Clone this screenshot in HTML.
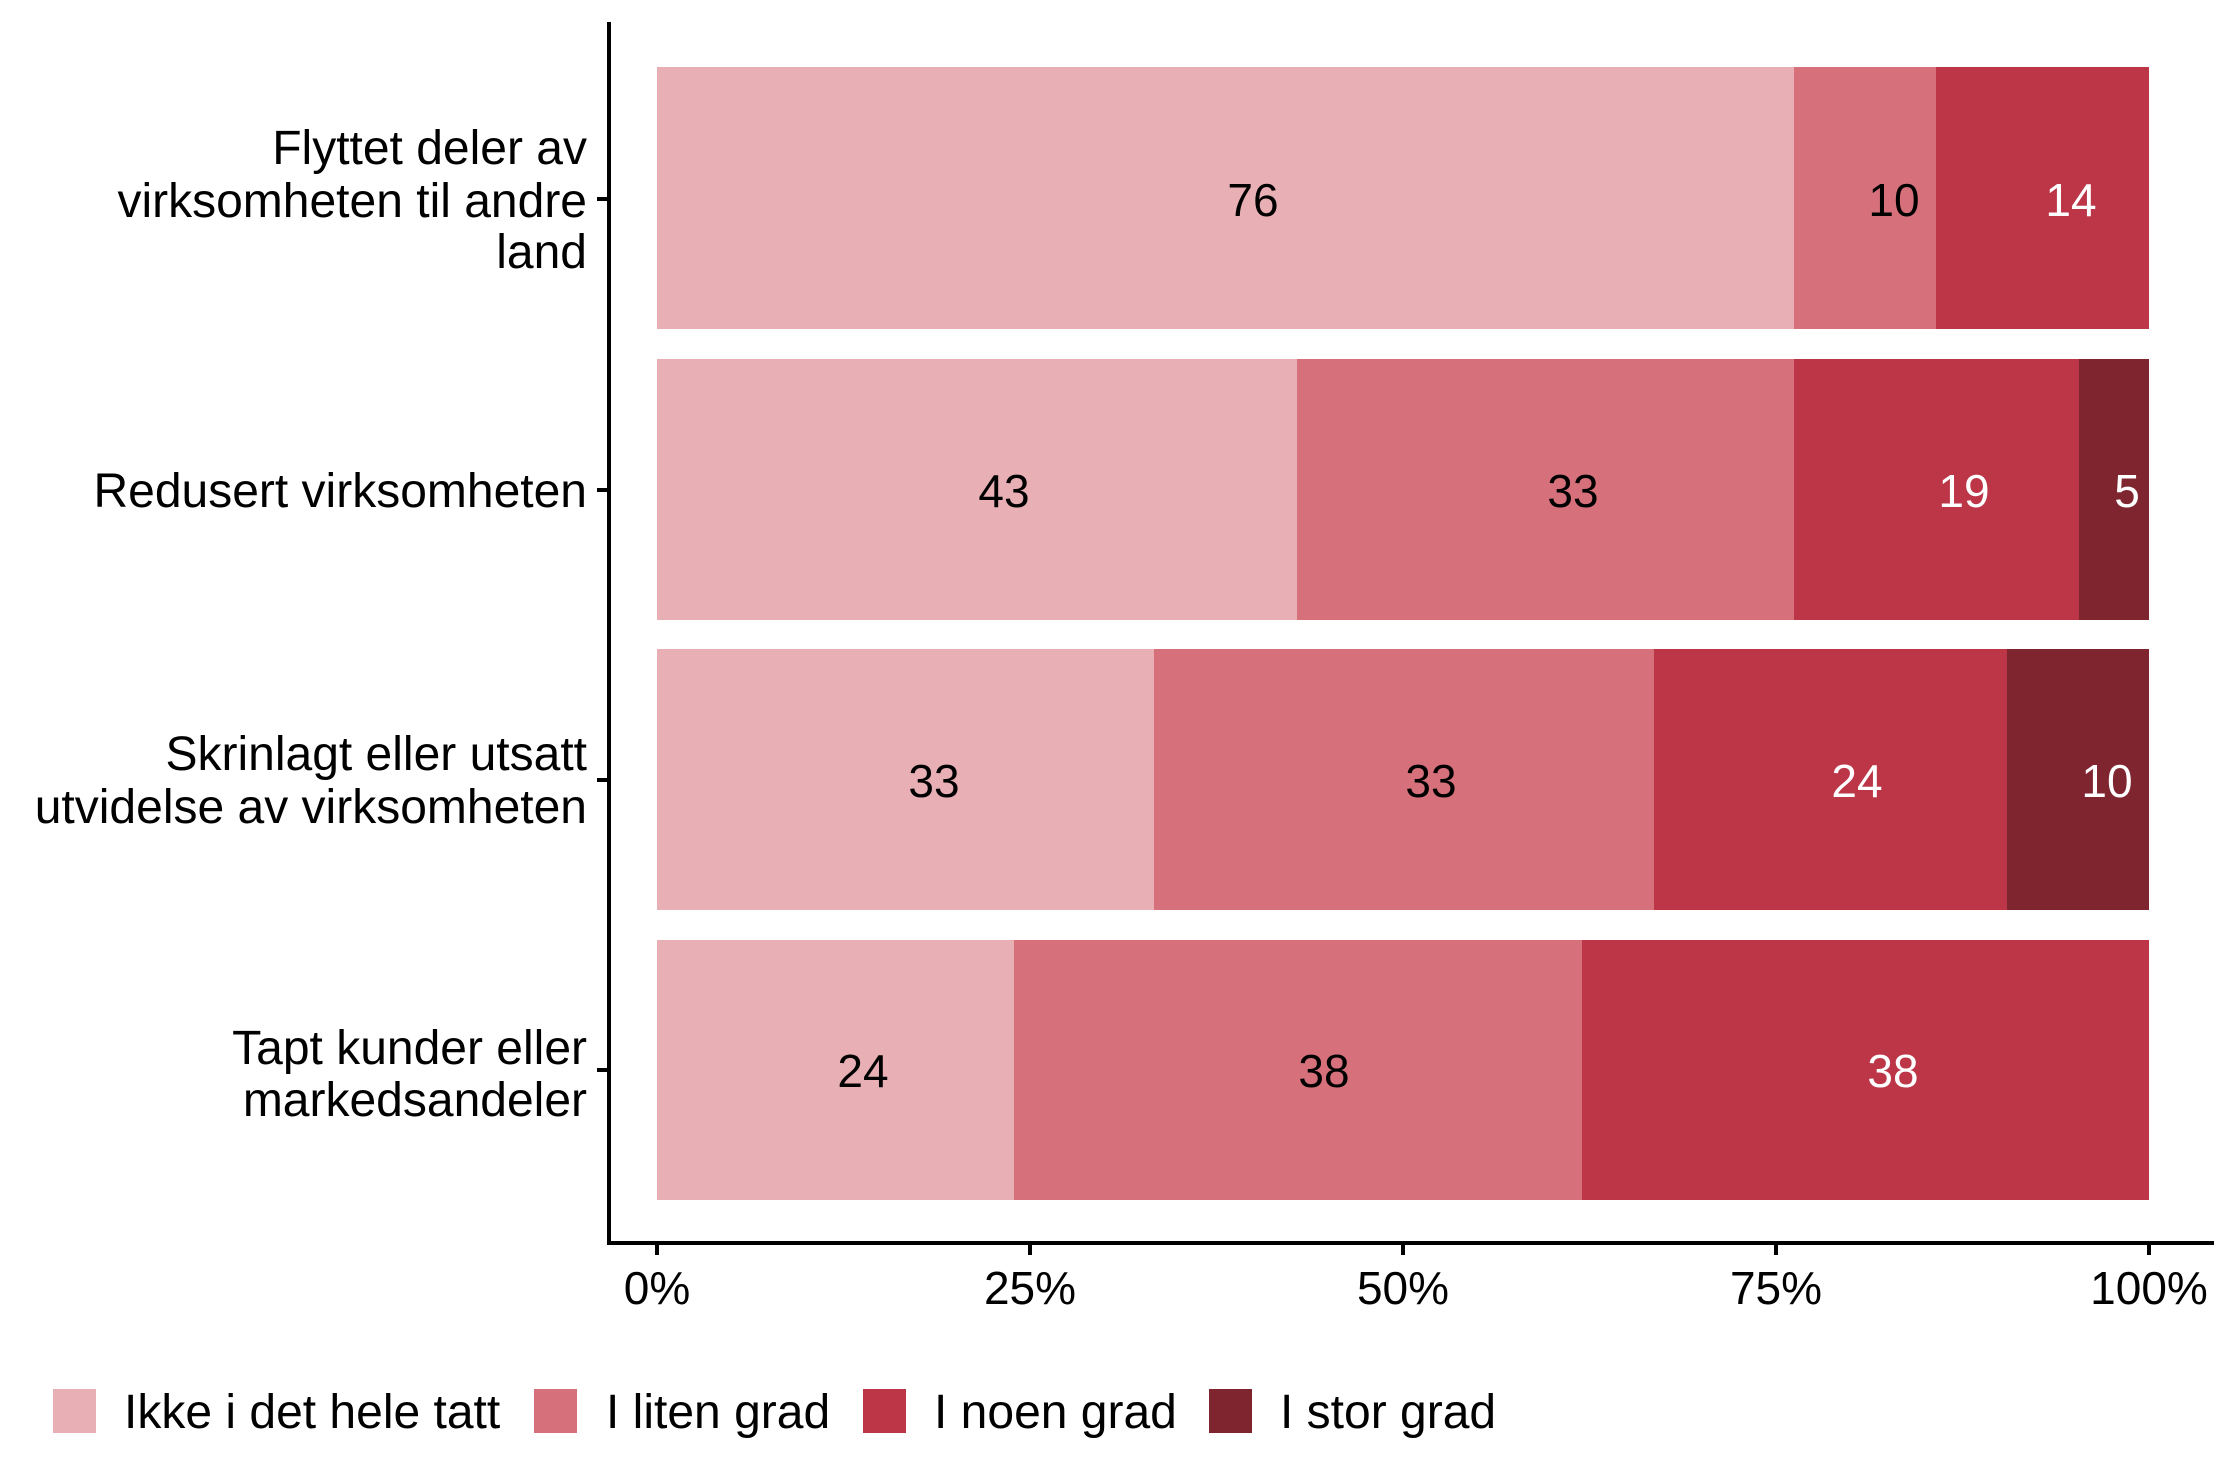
<!DOCTYPE html>
<html><head><meta charset="utf-8"><style>
html,body{margin:0;padding:0;background:#fff;}
svg{display:block;}
text{font-family:"Liberation Sans",Arial,sans-serif;}
</style></head><body>
<svg width="2240" height="1484" viewBox="0 0 2240 1484" xmlns="http://www.w3.org/2000/svg">
<rect width="2240" height="1484" fill="#fff"/>
<rect x="657" y="67" width="1137" height="262" fill="#E8B0B5"/>
<rect x="1794" y="67" width="142" height="262" fill="#D6717C"/>
<rect x="1936" y="67" width="213" height="262" fill="#BC3648"/>
<rect x="657" y="359" width="640" height="261" fill="#E8B0B5"/>
<rect x="1297" y="359" width="497" height="261" fill="#D6717C"/>
<rect x="1794" y="359" width="285" height="261" fill="#BC3648"/>
<rect x="2079" y="359" width="70" height="261" fill="#7E2530"/>
<rect x="657" y="649" width="497" height="261" fill="#E8B0B5"/>
<rect x="1154" y="649" width="500" height="261" fill="#D6717C"/>
<rect x="1654" y="649" width="353" height="261" fill="#BC3648"/>
<rect x="2007" y="649" width="142" height="261" fill="#7E2530"/>
<rect x="657" y="940" width="357" height="260" fill="#E8B0B5"/>
<rect x="1014" y="940" width="568" height="260" fill="#D6717C"/>
<rect x="1582" y="940" width="567" height="260" fill="#BC3648"/>

<g font-size="46" text-anchor="middle">
<text x="1253" y="216">76</text>
<text x="1894" y="216">10</text>
<text x="2071" y="216" fill="#fff">14</text>
<text x="1004" y="507">43</text>
<text x="1573" y="507">33</text>
<text x="1964" y="507" fill="#fff">19</text>
<text x="2127" y="507" fill="#fff">5</text>
<text x="934" y="797">33</text>
<text x="1431" y="797">33</text>
<text x="1857" y="797" fill="#fff">24</text>
<text x="2107" y="797" fill="#fff">10</text>
<text x="863" y="1087">24</text>
<text x="1324" y="1087">38</text>
<text x="1893" y="1087" fill="#fff">38</text>
</g>

<line x1="609" y1="22" x2="609" y2="1245" stroke="#000" stroke-width="4"/>
<line x1="607" y1="1243" x2="2214" y2="1243" stroke="#000" stroke-width="4"/>
<g stroke="#000" stroke-width="4">
<line x1="597" y1="199" x2="609" y2="199"/>
<line x1="597" y1="490" x2="609" y2="490"/>
<line x1="597" y1="780" x2="609" y2="780"/>
<line x1="597" y1="1070" x2="609" y2="1070"/>
<line x1="657" y1="1243" x2="657" y2="1255"/>
<line x1="1030" y1="1243" x2="1030" y2="1255"/>
<line x1="1403" y1="1243" x2="1403" y2="1255"/>
<line x1="1776" y1="1243" x2="1776" y2="1255"/>
<line x1="2149" y1="1243" x2="2149" y2="1255"/>
</g>
<g font-size="46" text-anchor="middle">
<text x="657" y="1304">0%</text>
<text x="1030" y="1304">25%</text>
<text x="1403" y="1304">50%</text>
<text x="1776" y="1304">75%</text>
<text x="2149" y="1304">100%</text>
</g>
<g font-size="48" text-anchor="end">
<text x="587" y="164">Flyttet deler av</text>
<text x="587" y="217">virksomheten til andre</text>
<text x="587" y="268">land</text>
<text x="587" y="507">Redusert virksomheten</text>
<text x="587" y="770">Skrinlagt eller utsatt</text>
<text x="587" y="823">utvidelse av virksomheten</text>
<text x="587" y="1064">Tapt kunder eller</text>
<text x="587" y="1116">markedsandeler</text>
</g>
<rect x="53" y="1389" width="43" height="44" fill="#E8B0B5"/>
<rect x="534" y="1389" width="43" height="44" fill="#D6717C"/>
<rect x="863" y="1389" width="43" height="44" fill="#BC3648"/>
<rect x="1209" y="1389" width="43" height="44" fill="#7E2530"/>
<g font-size="48">
<text x="124" y="1428">Ikke i det hele tatt</text>
<text x="606" y="1428">I liten grad</text>
<text x="934" y="1428">I noen grad</text>
<text x="1280" y="1428">I stor grad</text>
</g>
</svg>
</body></html>
